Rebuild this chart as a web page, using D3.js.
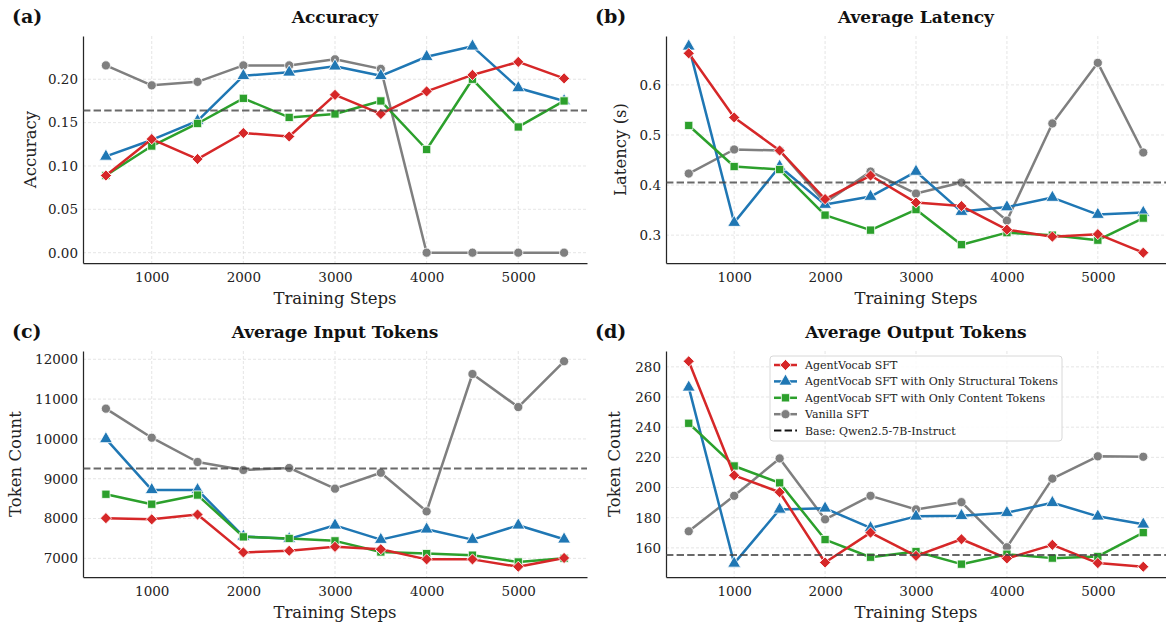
<!DOCTYPE html>
<html><head><meta charset="utf-8">
<script src="https://cdn.jsdelivr.net/npm/d3@7"></script>
<style>
body{margin:0;background:#fff;}
svg text{font-family:"DejaVu Serif",serif;}
</style></head>
<body>
<svg id="c" width="1166" height="626"></svg>
<script>
const steps = [500,1000,1500,2000,2500,3000,3500,4000,4500,5000,5500];
const xTicks = [1000,2000,3000,4000,5000];
const seriesNames = ["AgentVocab SFT","AgentVocab SFT with Only Structural Tokens","AgentVocab SFT with Only Content Tokens","Vanilla SFT"];
const baseName = "Base: Qwen2.5-7B-Instruct";

// (a) Accuracy
const accRed   = [0.089,0.131,0.108,0.138,0.134,0.182,0.160,0.186,0.205,0.220,0.201];
const accBlue  = [0.111,0.130,0.152,0.204,0.208,0.215,0.204,0.226,0.238,0.190,0.175];
const accGreen = [0.089,0.123,0.149,0.178,0.156,0.160,0.175,0.119,0.200,0.145,0.175];
const accGray  = [0.216,0.193,0.197,0.216,0.216,0.223,0.212,0.000,0.000,0.000,0.000];
const accBase  = 0.164;
const accTicks = [0.00,0.05,0.10,0.15,0.20];

// (b) Latency
const latRed   = [0.663,0.535,0.469,0.372,0.419,0.365,0.358,0.311,0.297,0.302,0.265];
const latBlue  = [0.677,0.325,0.437,0.361,0.377,0.427,0.347,0.356,0.375,0.341,0.345];
const latGreen = [0.519,0.437,0.431,0.340,0.310,0.351,0.281,0.305,0.300,0.290,0.334];
const latGray  = [0.423,0.471,0.469,0.365,0.427,0.383,0.405,0.329,0.523,0.644,0.465];
const latBase  = 0.405;
const latTicks = [0.3,0.4,0.5,0.6];

// (c) Input tokens
const inRed   = [8010,7980,8100,7150,7190,7290,7230,6975,6975,6790,7010];
const inBlue  = [10000,8720,8720,7550,7490,7830,7470,7730,7470,7830,7480];
const inGreen = [8610,8360,8590,7540,7500,7440,7160,7120,7080,6910,7000];
const inGray  = [10760,10030,9420,9220,9270,8750,9150,8180,11630,10800,11950];
const inBase  = 9255;
const inTicks = [7000,8000,9000,10000,11000,12000];

// (d) Output tokens
const outRed   = [283.7,208.1,196.9,150.3,170.1,154.7,165.7,153.0,162.0,149.9,147.5];
const outBlue  = [266.4,149.7,185.5,186.2,173.2,180.9,181.3,183.3,189.9,180.9,175.6];
const outGreen = [242.6,214.3,203.1,165.5,153.8,157.6,149.2,155.8,153.2,154.3,170.1];
const outGray  = [171.0,194.5,219.3,178.9,194.5,185.5,190.3,160.4,205.9,220.7,220.4];
const outBase  = 155.2;
const outTicks = [160,180,200,220,240,260,280];

const colors = ["#d62728","#1f77b4","#2ca02c","#7f7f7f"];
const symbols = [d3.symbolSquare, d3.symbolTriangle, d3.symbolSquare, d3.symbolCircle];
const symRot = [45, 0, 0, 0];
const symSizes = [62, 72, 68, 66];

const panels = [
  {lab:"(a)", title:"Accuracy", ylab:"Accuracy", data:[accRed,accBlue,accGreen,accGray], base:accBase, ticks:accTicks, fmt:d3.format(".2f"),
   x0:83, x1:587, y0:36, y1:263, legend:false},
  {lab:"(b)", title:"Average Latency", ylab:"Latency (s)", data:[latRed,latBlue,latGreen,latGray], base:latBase, ticks:latTicks, fmt:d3.format(".1f"),
   x0:666, x1:1166, y0:36, y1:263, legend:false},
  {lab:"(c)", title:"Average Input Tokens", ylab:"Token Count", data:[inRed,inBlue,inGreen,inGray], base:inBase, ticks:inTicks, fmt:d3.format("d"),
   x0:83, x1:587, y0:351, y1:577, legend:false},
  {lab:"(d)", title:"Average Output Tokens", ylab:"Token Count", data:[outRed,outBlue,outGreen,outGray], base:outBase, ticks:outTicks, fmt:d3.format("d"),
   x0:666, x1:1166, y0:351, y1:577, legend:true}
];

const svg = d3.select("#c");
const drawOrder = [3,1,2,0];

function marker(sel, si, tx, ty) {
  sel.attr("transform", `translate(${tx},${ty}) rotate(${symRot[si]})`)
    .attr("d", d3.symbol().type(symbols[si]).size(symSizes[si]))
    .attr("fill", colors[si]).attr("stroke", "#fff").attr("stroke-width", 0.8);
}

panels.forEach(p => {
  const all = p.data.flat().concat([p.base]);
  const mn = d3.min(all), mx = d3.max(all), m = (mx-mn)*0.05;
  const x = d3.scaleLinear().domain([250,5750]).range([p.x0,p.x1]);
  const y = d3.scaleLinear().domain([mn-m, mx+m]).range([p.y1,p.y0]);
  const g = svg.append("g");

  // grid
  g.append("g").selectAll("line").data(xTicks).join("line")
    .attr("x1",d=>x(d)).attr("x2",d=>x(d)).attr("y1",p.y0).attr("y2",p.y1)
    .attr("stroke","#cccccc").attr("stroke-width",0.8).attr("stroke-dasharray","3,2").attr("opacity",0.6);
  g.append("g").selectAll("line").data(p.ticks).join("line")
    .attr("x1",p.x0).attr("x2",p.x1).attr("y1",d=>y(d)).attr("y2",d=>y(d))
    .attr("stroke","#cccccc").attr("stroke-width",0.8).attr("stroke-dasharray","3,2").attr("opacity",0.6);

  // axes
  const xa = g.append("g").attr("transform",`translate(0,${p.y1})`)
    .call(d3.axisBottom(x).tickValues(xTicks).tickSize(0).tickPadding(9).tickFormat(d3.format("d")));
  const ya = g.append("g").attr("transform",`translate(${p.x0},0)`)
    .call(d3.axisLeft(y).tickValues(p.ticks).tickSize(0).tickPadding(5).tickFormat(p.fmt));
  [xa,ya].forEach(a=>{
    a.select(".domain").attr("stroke","#262626").attr("stroke-width",1.25);
    a.selectAll("text").attr("font-size",13.5).attr("fill","#222").style("font-family","DejaVu Serif");
  });

  // series
  const line = d3.line().x((d,i)=>x(steps[i])).y(d=>y(d));
  drawOrder.forEach(si => {
    const vals = p.data[si];
    g.append("path").datum(vals).attr("d",line).attr("fill","none")
      .attr("stroke",colors[si]).attr("stroke-width",2.5).attr("stroke-linejoin","round");
    g.append("g").selectAll("path").data(vals).join("path")
      .each(function(d,i){ marker(d3.select(this), si, x(steps[i]), y(d)); });
  });

  // base line
  g.append("line").attr("x1",p.x0).attr("x2",p.x1).attr("y1",y(p.base)).attr("y2",y(p.base))
    .attr("stroke","#444").attr("stroke-opacity",0.8).attr("stroke-width",2).attr("stroke-dasharray","7.4,3.2");

  // texts
  g.append("text").attr("x",(p.x0+p.x1)/2).attr("y",p.y0-13).attr("text-anchor","middle")
    .attr("font-size",17).attr("font-weight","bold").attr("fill","#111").text(p.title);
  g.append("text").attr("x",p.x0-71).attr("y",p.y0-13).attr("font-size",19).attr("font-weight","bold").attr("fill","#111").text(p.lab);
  g.append("text").attr("x",(p.x0+p.x1)/2).attr("y",p.y1+41).attr("text-anchor","middle")
    .attr("font-size",16.5).attr("fill","#222").text("Training Steps");
  const ylx = p.lab==="(c)" ? p.x0-68 : (p.lab==="(d)" ? p.x0-52 : (p.lab==="(b)"? p.x0-46 : p.x0-53));
  g.append("text").attr("transform",`translate(${ylx+6},${(p.y0+p.y1)/2}) rotate(-90)`).attr("text-anchor","middle")
    .attr("font-size",16.5).attr("fill","#222").text(p.ylab);

  if (p.legend) {
    const lg = g.append("g");
    lg.append("rect").attr("x",770).attr("y",356).attr("width",292).attr("height",85).attr("rx",3)
      .attr("fill","#fff").attr("fill-opacity",0.85).attr("stroke","#d8d8d8").attr("stroke-width",1);
    const rowY = i => 365 + i*16.4;
    seriesNames.forEach((nm,i)=>{
      lg.append("line").attr("x1",774).attr("x2",797).attr("y1",rowY(i)).attr("y2",rowY(i))
        .attr("stroke",colors[i]).attr("stroke-width",2.5);
      marker(lg.append("path"), i, 785.5, rowY(i));
      lg.append("text").attr("x",805).attr("y",rowY(i)+4).attr("font-size",11).attr("fill","#222").text(nm);
    });
    lg.append("line").attr("x1",774).attr("x2",797).attr("y1",rowY(4)).attr("y2",rowY(4))
      .attr("stroke","#111").attr("stroke-width",2).attr("stroke-dasharray","7.4,3.2");
    lg.append("text").attr("x",805).attr("y",rowY(4)+4).attr("font-size",11).attr("fill","#222").text(baseName);
  }
});
</script>
</body></html>
